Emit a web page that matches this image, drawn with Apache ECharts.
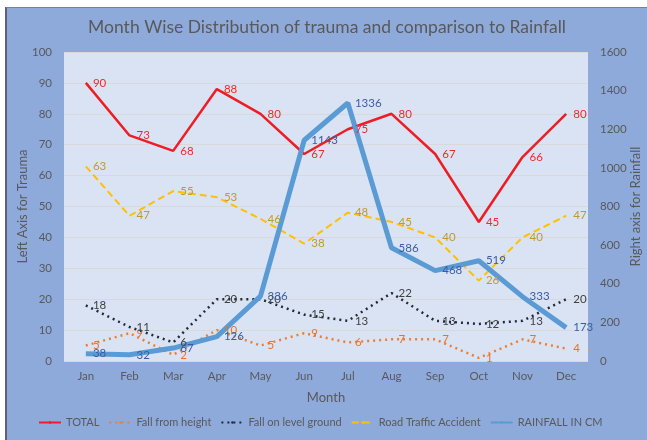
<!DOCTYPE html>
<html>
<head>
<meta charset="utf-8">
<script src="https://cdn.jsdelivr.net/npm/echarts@6/dist/echarts.min.js"></script>
<style>
  html, body { margin: 0; padding: 0; background: #ffffff; }
  #frame {
    position: absolute; left: 5px; top: 7px; width: 640px; height: 433px;
    border-left: 2px solid #5b6472; border-top: 1px solid #7a8290;
    background: #8eaadb;
  }
  #chart { width: 640px; height: 433px; }
</style>
</head>
<body>
<div id="frame"><div id="chart"></div></div>
<script>
// month wise trauma vs rainfall
var months = ['Jan', 'Feb', 'Mar', 'Apr', 'May', 'Jun', 'Jul', 'Aug', 'Sep', 'Oct', 'Nov', 'Dec'];
var total = [90, 73, 68, 88, 80, 67, 75, 80, 67, 45, 66, 80];
var fallHeight = [5, 9, 2, 10, 5, 9, 6, 7, 7, 1, 7, 4];
var fallLevel = [18, 11, 6, 20, 20, 15, 13, 22, 13, 12, 13, 20];
var roadAccident = [63, 47, 55, 53, 46, 38, 48, 45, 40, 26, 40, 47];
var rainfall = [38, 32, 67, 126, 336, 1143, 1336, 586, 468, 519, 333, 173];

var font = 'Lato';
var axisText = { color: '#595959', fontSize: 11.5, fontFamily: font };

function lineSeries(name, data, color, labelColor, width, type, axisIdx) {
    return {
        name: name,
        type: 'line',
        data: data,
        yAxisIndex: axisIdx,
        symbol: 'circle',
        symbolSize: 0.1,
        showSymbol: true,
        lineStyle: { color: color, width: width, type: type },
        itemStyle: { color: color },
        label: {
            show: true, position: 'right', distance: 7,
            color: labelColor, fontSize: 11.5, fontFamily: font
        },
        labelLayout: { hideOverlap: false }
    };
}

var chart = echarts.init(document.getElementById('chart'));
chart.setOption({
    backgroundColor: 'transparent',
    title: {
        text: 'Month Wise Distribution of trauma and comparison to Rainfall',
        left: 'center', top: 5,
        textStyle: { color: '#595959', fontSize: 17.5, fontWeight: 'normal', fontFamily: font }
    },
    grid: {
        left: 57, right: 59, top: 44, bottom: 80,
        outerBoundsMode: 'none',
        show: true, backgroundColor: '#dae3f3', borderWidth: 0
    },
    legend: {
        bottom: 8, left: 26, width: 610,
        itemWidth: 22, itemHeight: 3, itemGap: 9,
        textStyle: { color: '#595959', fontSize: 11, fontFamily: font },
        data: ['TOTAL', 'Fall from height', 'Fall on level ground', 'Road Traffic Accident', 'RAINFALL IN CM']
    },
    xAxis: {
        type: 'category',
        data: months,
        name: 'Month', nameLocation: 'middle', nameGap: 30,
        nameMoveOverlap: false,
        nameTextStyle: { color: '#595959', fontSize: 13, fontFamily: font },
        axisLine: { show: false },
        axisTick: { show: false },
        axisLabel: Object.assign({ margin: 9 }, axisText)
    },
    yAxis: [{
        type: 'value', min: 0, max: 100, interval: 10,
        name: 'Left Axis for Trauma', nameLocation: 'middle', nameGap: 35,
        nameMoveOverlap: false,
        nameTextStyle: { color: '#595959', fontSize: 13, fontFamily: font },
        axisLine: { show: false }, axisTick: { show: false },
        axisLabel: Object.assign({ margin: 12 }, axisText),
        splitLine: { lineStyle: { color: '#d9d9d9', width: 1 } }
    }, {
        type: 'value', min: 0, max: 1600, interval: 200,
        name: 'Right axis for Rainfall', nameLocation: 'middle', nameGap: 41,
        nameMoveOverlap: false,
        nameTextStyle: { color: '#595959', fontSize: 13, fontFamily: font },
        axisLine: { show: false }, axisTick: { show: false },
        axisLabel: Object.assign({ margin: 12, formatter: function (v) { return String(v); } }, axisText),
        splitLine: { show: false }
    }],
    series: [
        lineSeries('TOTAL', total, '#ee1c25', '#ee2a2a', 2.5, 'solid', 0),
        lineSeries('Fall from height', fallHeight, '#ed7d31', '#e8722a', 2.5, [2, 4], 0),
        lineSeries('Fall on level ground', fallLevel, '#1f2a3a', '#404040', 2.5, [2, 4], 0),
        lineSeries('Road Traffic Accident', roadAccident, '#ffc000', '#c09a2c', 2, [7, 4], 0),
        lineSeries('RAINFALL IN CM', rainfall, '#5b9bd5', '#3a5ca8', 5, 'solid', 1)
    ]
});
</script>
</body>
</html>
